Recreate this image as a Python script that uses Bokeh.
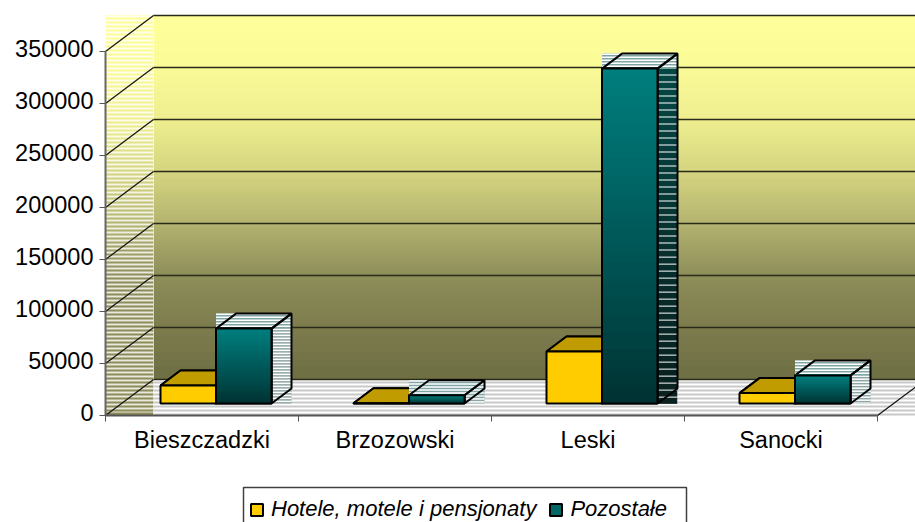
from bokeh.embed import file_html
from bokeh.resources import INLINE
from bokeh.plotting import figure
from bokeh.models import (Range1d, FixedTicker, LinearAxis, Legend, LegendItem)
import numpy as np

categories = ["Bieszczadzki", "Brzozowski", "Leski", "Sanocki"]
hotele = [17300, 300, 50000, 10000]
pozostale = [72000, 8000, 322000, 27000]
y_ticks = [0, 50000, 100000, 150000, 200000, 250000, 300000, 350000]
series_names = ["Hotele, motele i pensjonaty", "Pozostałe"]

FONT = "Liberation Sans"
FS = "23.5px"
LEG_FS = "22px"
LABEL_SHIFT = 3000         # tick labels sit about 3 px above their ticks
# layout, in page pixels
X0, Y0 = 105, 415          # origin of the front axes
PXC, PXV = 193.0, 52.0 / 50000
W, H = 915, 522
BACK_DX, BACK_DY = 48, 36
BAR_GAP = 55               # front-of-bar offset within a category
BAR_W = 55.5
BAR_DX, BAR_DY = 20, 15
BAR_BASE = 12              # bar base raised above the front edge
# wall gradient stops (page y, grey-yellow levels)
GY = [15, 67, 119, 171, 223, 275, 327, 379]
GR = [255, 250, 238, 212, 178, 140, 122, 108]
GB = [153, 150, 142, 126, 110, 88, 75, 65]


def fx(px):
    return (np.asarray(px, dtype=float) - X0) / PXC


def fy(py):
    return (Y0 - np.asarray(py, dtype=float)) / PXV


def hexc(c):
    return "#%02x%02x%02x" % tuple(int(round(a)) for a in c)


def lerp(c0, c1, t):
    return hexc([a + (b - a) * t for a, b in zip(c0, c1)])


def wall_col(y, floor=0):
    r = max(float(np.interp(y, GY, GR)), floor)
    b = max(float(np.interp(y, GY, GB)), floor * 0.62)
    return hexc((r, r, b))


p = figure(width=W, height=H, output_backend="svg", toolbar_location=None,
           x_range=Range1d(float(fx(0)), float(fx(W))),
           y_range=Range1d(float(fy(H)), float(fy(0))),
           x_axis_location=None, y_axis_location=None,
           min_border=0, background_fill_color="white",
           border_fill_color="white", outline_line_color=None)
p.grid.visible = False


def rows(x0, x1, ys, y1, cols, step):
    # row outlines are kept so that neighbouring rows leave no seam
    p.quad(left=float(fx(x0 + 0.5)), right=float(fx(x1 - 0.5)), top=fy(ys + 0.25),
           bottom=fy(np.minimum(ys + step, y1) - 0.25),
           fill_color=cols, line_color=cols, line_width=1)


def band(x0, x1, y0, y1, c0, c1, step=1):
    ys = np.arange(np.floor(y0), y1, step)
    rows(x0, x1, ys, y1, [lerp(c0, c1, (y - y0) / max(1, (y1 - y0))) for y in ys], step)


def stripes(x0, x1, y0, y1, pitch, thick, color="#ffffff", alpha=1.0):
    ys = np.arange(y0, y1, pitch)
    p.quad(left=float(fx(x0)), right=float(fx(x1)), top=fy(ys), bottom=fy(np.minimum(ys + thick, y1)),
           fill_color=color, fill_alpha=alpha, line_color=None)


back_top = Y0 - BACK_DY - 350000 * PXV
back_bot = Y0 - BACK_DY

# back wall
ys_b = np.arange(back_top, back_bot, 1)
rows(X0 + BACK_DX, 916, ys_b, back_bot, [wall_col(y) for y in ys_b], 1)
# side wall: gradient with white stripes inside its bounding box
ys_s = np.arange(back_top, Y0, 1)
rows(X0, X0 + BACK_DX, ys_s, Y0, [wall_col(y, 138) for y in ys_s], 1)
stripes(X0, X0 + BACK_DX, back_top, Y0 - 3, 4, 2, "#ffffff", 0.8)
# floor
p.quad(left=float(fx(X0 + BACK_DX)), right=float(fx(915)), top=float(fy(back_bot)), bottom=float(fy(Y0)),
       fill_color="#c8c8c8", line_color=None)
stripes(X0 + BACK_DX, 915, back_bot, Y0, 4, 2, "#ffffff", 1.0)

# grid lines on the walls, driven by the tick values
dxv = BACK_DX / PXC
dyv = BACK_DY / PXV
ticks = np.array(y_ticks, dtype=float)
p.segment(x0=0 * ticks + dxv, y0=ticks + dyv, x1=0 * ticks + float(fx(915)), y1=ticks + dyv,
          line_color="#2a2a18", line_width=1.3)
p.segment(x0=0 * ticks, y0=ticks, x1=0 * ticks + dxv, y1=ticks + dyv, line_color="#111111", line_width=1.2)
p.segment(x0=[4.0], y0=[0.0], x1=[4.0 + dxv], y1=[dyv], line_color="#111111", line_width=1.2)

# bars
bar_w = BAR_W / PXC
start = BAR_GAP / PXC
ddx = BAR_DX / PXC
ddy = BAR_DY / PXV
base = BAR_BASE / PXV
cat = np.arange(len(categories), dtype=float)
hv = np.array(hotele, dtype=float)
pv = np.array(pozostale, dtype=float)
hl = cat + start
pl = hl + bar_w

for i in range(len(categories)):
    l, r, b, t = hl[i], pl[i], base, base + hv[i]
    p.patch([l + ddx, r + ddx, r + ddx, r, l, l + ddx], [t + ddy, t + ddy, b + ddy, b, t, t + ddy],
            fill_color="#8f7400", line_color="black", line_width=2)
    p.patch([l, r, r + ddx, l + ddx], [t, t, t + ddy, t + ddy], fill_color="#c09c00",
            line_color="black", line_width=2)

yellow_front = p.quad(left=hl, right=pl, top=base + hv, bottom=base, fill_color="#ffcc00",
                      line_color="black", line_width=2)

for i in range(len(categories)):
    l, r, b, t = pl[i], pl[i] + bar_w, base, base + pv[i]
    px_l, px_r = X0 + l * PXC, X0 + r * PXC
    py_t = Y0 - t * PXV
    py_b = Y0 - b * PXV
    tall = (py_b - py_t) > 200
    # right side bounding box with stripes
    if tall:
        band(px_r, px_r + BAR_DX, py_t - BAR_DY, py_b, (0, 70, 70), (8, 30, 30))
    else:
        p.quad(left=r, right=r + ddx, top=t + ddy, bottom=b, fill_color="#8fa4a4", line_color=None)
    stripes(px_r, px_r + BAR_DX, py_t - BAR_DY, py_b, 7 if tall else 3, 1 if tall else 1.5)
    # top bounding box with stripes
    p.quad(left=l, right=r + ddx, top=t + ddy, bottom=t, fill_color="#7fa4a4", line_color=None)
    stripes(px_l, px_r + BAR_DX, py_t - BAR_DY, py_t, 3, 1.5)
    p.patch([r, r + ddx, r + ddx, r], [t, t + ddy, b + ddy, b], fill_alpha=0, line_color="black", line_width=2)
    p.patch([l, r, r + ddx, l + ddx], [t, t, t + ddy, t + ddy], fill_alpha=0, line_color="black", line_width=2)

teal_legend = p.quad(left=pl, right=pl + bar_w, top=base + pv, bottom=base, fill_color="#006666",
                     line_color="black", line_width=2)
for i in range(len(categories)):
    l, r, b, t = pl[i], pl[i] + bar_w, base, base + pv[i]
    px_l, px_r = X0 + l * PXC, X0 + r * PXC
    band(px_l, px_r, Y0 - t * PXV, Y0 - b * PXV, (0, 128, 128), (0, 51, 51))
p.quad(left=pl, right=pl + bar_w, top=base + pv, bottom=base, fill_alpha=0, line_color="black", line_width=2)

# axes: line and ticks
yax = LinearAxis(ticker=FixedTicker(ticks=y_ticks), bounds=(0, 350000), fixed_location=0)
yax.axis_line_color = "#666666"
yax.axis_line_width = 2
yax.major_tick_line_color = "#555555"
yax.major_tick_out = 6
yax.major_tick_in = 0
yax.minor_tick_line_color = None
yax.major_label_text_font_size = "0px"
yax.major_label_text_color = None
p.add_layout(yax, "left")

# value labels, drawn slightly above their ticks
label_ticks = [v + LABEL_SHIFT for v in y_ticks]
yl = LinearAxis(ticker=FixedTicker(ticks=label_ticks), fixed_location=0)
yl.axis_line_color = None
yl.major_tick_line_color = None
yl.minor_tick_line_color = None
yl.major_tick_out = 6
yl.major_tick_in = 0
yl.major_label_standoff = 6
yl.major_label_text_font = FONT
yl.major_label_text_font_size = FS
yl.major_label_text_color = "black"
yl.major_label_overrides = {t: str(v) for t, v in zip(label_ticks, y_ticks)}
p.add_layout(yl, "left")

centers = [i + 0.5 for i in range(len(categories))]
xax = LinearAxis(ticker=FixedTicker(ticks=centers, minor_ticks=list(range(len(categories) + 1))),
                 bounds=(0, 4), fixed_location=0)
xax.axis_line_color = "#555555"
xax.axis_line_width = 2
xax.major_tick_line_color = None
xax.minor_tick_line_color = "#555555"
xax.minor_tick_out = 6
xax.minor_tick_in = 0
xax.major_label_standoff = 5
xax.major_label_text_font = FONT
xax.major_label_text_font_size = FS
xax.major_label_text_color = "black"
xax.major_label_overrides = {c: n for c, n in zip(centers, categories)}
p.add_layout(xax, "below")

# legend box: runs past the page's lower edge, as in the reference
p.quad(left=float(fx(243)), right=float(fx(686)), top=float(fy(487)), bottom=float(fy(530)),
       fill_color="white", line_color="#404040", line_width=1.5)
leg = Legend(items=[LegendItem(label=series_names[0], renderers=[yellow_front]),
                    LegendItem(label=series_names[1], renderers=[teal_legend])],
             orientation="horizontal", location=(249, 0), padding=7, margin=0,
             glyph_width=15, glyph_height=15, label_standoff=7, spacing=12,
             label_text_font=FONT, label_text_font_size=LEG_FS, label_text_font_style="italic",
             label_text_color="black", border_line_color=None, background_fill_alpha=0,
             click_policy="none")
p.add_layout(leg)

open("out.html", "w").write(file_html(p, INLINE))
